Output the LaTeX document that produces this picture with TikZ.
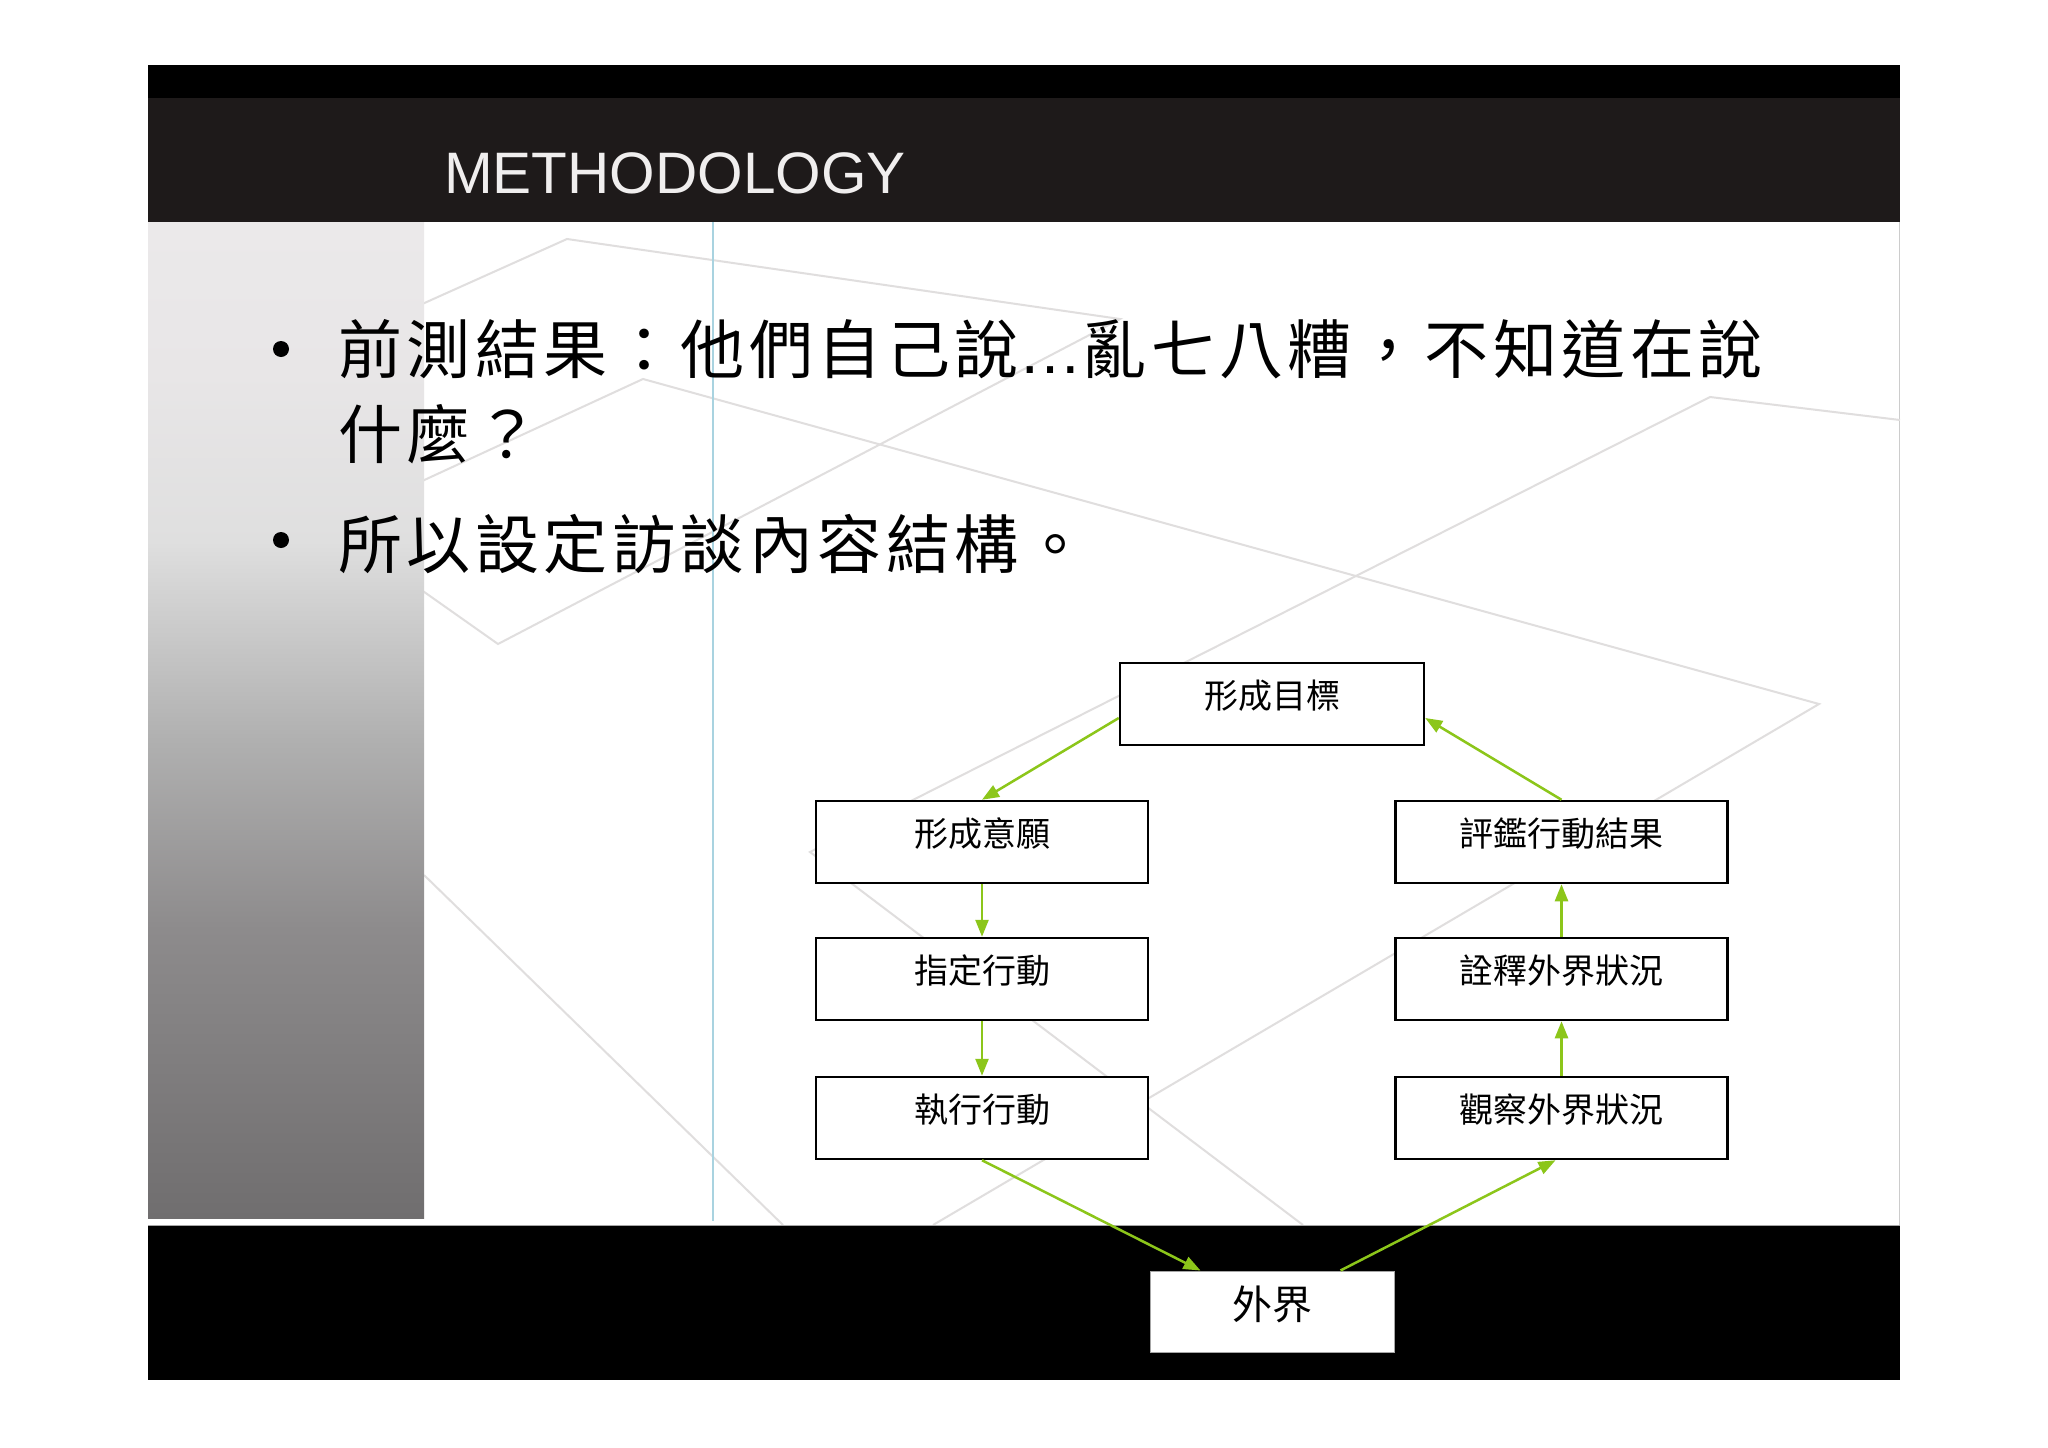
\documentclass[tikz,border=0pt]{standalone}
\usepackage{fontspec}
\usetikzlibrary{arrows.meta,calc}
\newfontfamily\cjk{Noto Sans CJK TC}
\newfontfamily\cjkbody[LetterSpace=7]{Noto Sans CJK TC}
\newfontfamily\titlefont{Liberation Sans}
\newfontfamily\latinfont{Liberation Sans}
\definecolor{darkband}{HTML}{1E1A1A}
\definecolor{titlewhite}{HTML}{F0EEEE}
\definecolor{bgline}{HTML}{E0DEDE}
\definecolor{bluerule}{HTML}{A9D3E0}
\definecolor{arrowgreen}{RGB}{140,198,26}
\pgfdeclareverticalshading{panelshade}{100bp}{rgb(0bp)=(0.439,0.431,0.435); rgb(25bp)=(0.439,0.431,0.435); rgb(39.5bp)=(0.553,0.545,0.549); rgb(49bp)=(0.690,0.690,0.690); rgb(59bp)=(0.875,0.875,0.875); rgb(67.5bp)=(0.910,0.902,0.906); rgb(75bp)=(0.922,0.914,0.918); rgb(100bp)=(0.922,0.914,0.918)}
\tikzset{
  stagebox/.style={draw=black, line width=2.5pt, fill=white, inner sep=0pt,
    minimum width=332pt, text height=45pt, text depth=37pt,
    font=\cjk\fontsize{34}{34}\selectfont},
  worldbox/.style={draw=black!35, line width=1pt, fill=white, inner sep=0pt,
    minimum width=244pt, text height=48pt, text depth=33pt,
    font=\cjk\fontsize{40}{40}\selectfont},
  flow/.style={draw=arrowgreen, line width=2.5pt, -{Triangle[length=17pt,width=13pt]}},
  bgstroke/.style={draw=bgline, line width=2pt, line join=miter},
  bodytext/.style={anchor=base west, inner sep=0pt, font=\cjkbody\fontsize{64}{64}\selectfont},
  bulletdot/.style={circle, fill=black, inner sep=0pt, minimum size=16pt}
}
\begin{document}
\begin{tikzpicture}[x=1pt,y=-1pt]
\useasboundingbox (0,0) rectangle (2048,1448);
\fill[white] (0,0) rectangle (2048,1448);
% slide
\fill[white] (148,222) rectangle (1900,1225);
\draw[black!20, line width=1pt] (1899.5,222) -- (1899.5,1225);
% background decorative lines
\draw[bgstroke] (420,305) -- (567,239) -- (1120,319) -- (498,644) -- (420,589);
\draw[bgstroke] (420,482) -- (643,379) -- (1819,704) -- (933,1225);
\draw[bgstroke] (1900,420) -- (1710,397) -- (810,852) -- (1303,1225);
\draw[bgstroke] (424,875) -- (783,1225);
% left gradient panel
\shade[shading=panelshade] (148,222) rectangle (424,1218);
% blue rule
\draw[bluerule, line width=1.5pt] (713,222) -- (713,1221);
% header
\fill[black] (148,65) rectangle (1900,98);
\fill[darkband] (148,98) rectangle (1900,222);
\node[anchor=base west, inner sep=0pt, text=titlewhite,
  font=\titlefont\fontsize{58.5}{58.5}\selectfont] (title) at (444,193) {METHODOLOGY};
% bottom band
\fill[black] (148,1225) rectangle (1900,1380);
\draw[black!35, line width=1pt] (148,1225) -- (1900,1225);
% bullets
\node[bulletdot] (b1) at (281,349) {};
\node[bulletdot] (b2) at (281,540) {};
\node[bodytext] (l1) at (338,373) {前測結果：他們自己說{\latinfont…}亂七八糟，不知道在說};
\node[bodytext] (l2) at (338,458) {什麼？};
\node[bodytext] (l3) at (338,568) {所以設定訪談內容結構。};
% diagram boxes
\node[stagebox, minimum width=304pt] (goal) at (1272,704) {形成目標};
\node[stagebox] (intend) at (982,842) {形成意願};
\node[stagebox] (specify) at (982,979) {指定行動};
\node[stagebox] (execute) at (982,1118) {執行行動};
\node[stagebox] (evaluate) at (1561.5,842) {評鑑行動結果};
\node[stagebox] (interpret) at (1561.5,979) {詮釋外界狀況};
\node[stagebox] (perceive) at (1561.5,1118) {觀察外界狀況};
\node[worldbox] (world) at (1272,1311.5) {外界};
% connectors
\draw[flow] ($(goal.west)+(0,14)$) -- (intend.north);
\draw[flow] (evaluate.north) -- ($(goal.east)+(0,14)$);
\draw[flow] (intend.south) -- (specify.north);
\draw[flow] (specify.south) -- (execute.north);
\draw[flow] (interpret.north) -- (evaluate.south);
\draw[flow] (perceive.north) -- (interpret.south);
\draw[flow] (execute.south) -- ($(world.north west)+(51,0)$);
\draw[flow] ($(world.north west)+(191,0)$) -- ($(perceive.south)+(-6,0)$);
\end{tikzpicture}
\end{document}
